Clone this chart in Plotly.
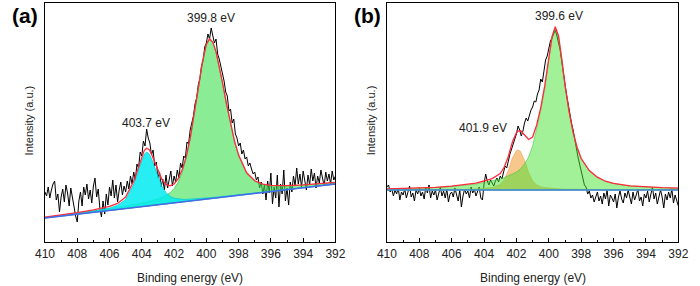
import plotly.graph_objects as go

# ---------------- Panel (a) data (height units, arbitrary) ----------------
counts_a = [
    50, 46, 55, 44, 52, 58, 61, 42, 48, 30,      # 410.0-409.1
    45, 53, 40, 57, 49, 36, 54, 44, 38, 26,      # 409.0-408.1
    20, 41, 50, 36, 55, 47, 58, 43, 52, 39,      # 408.0-407.1
    56, 64, 45, 53, 34, 25, 41, 28, 48, 37,      # 407.0-406.1
    55, 46, 62, 44, 57, 40, 52, 60, 47, 56,      # 406.0-405.1
    50, 61, 53, 66, 58, 70, 62, 78, 74, 90,      # 405.0-404.1
    86, 101, 96, 113, 104, 99, 87, 92, 76, 80,   # 404.0-403.1
    64, 70, 55, 63, 52, 67, 54, 62, 71, 56,      # 403.0-402.1
    66, 60, 72, 64, 79, 74, 86, 84, 100, 98,     # 402.0-401.1
    112, 119, 126, 138, 144, 157, 163, 176, 181, 195,  # 401.0-400.1
    199, 208, 203, 214, 206, 199, 203, 188, 183, 176,  # 400.0-399.1
    166, 161, 150, 146, 131, 133, 119, 123, 108, 104,  # 399.0-398.1
    96, 99, 88, 92, 83, 85, 76, 79, 73, 68,      # 398.0-397.1
    70, 62, 65, 54, 60, 48, 57, 42, 61, 49,      # 397.0-396.1
    69, 38, 55, 44, 67, 35, 58, 48, 72, 41,      # 396.0-395.1
    54, 37, 60, 50, 66, 56, 74, 58, 68, 55,      # 395.0-394.1
    71, 60, 52, 67, 57, 73, 61, 69, 54, 66,      # 394.0-393.1
    59, 72, 63, 56, 70, 61, 68, 58, 71, 62,      # 393.0-392.1
    66,                                          # 392.0
]
energy_a = [round(410 - 0.1 * i, 1) for i in range(len(counts_a))]

fit_x_a = [410, 409, 408, 407, 406, 405.5, 405, 404.5, 404.25, 404, 403.85, 403.7,
           403.55, 403.4, 403.2, 403, 402.75, 402.5, 402.25, 402, 401.75, 401.5,
           401.25, 401, 400.75, 400.5, 400.25, 400, 399.8, 399.6, 399.4, 399.2,
           399, 398.75, 398.5, 398.25, 398, 397.5, 397, 396.5, 396, 395, 394, 393, 392]
peak_403_a = [24.3, 26.3, 28.5, 30.9, 34.0, 36.7, 42.6, 57.9, 69.9, 82.2, 87.7, 89.9,
              88.3, 83.4, 74.5, 65.1, 55.6, 49.3, 45.6, 43.8, 43.0, 42.7,
              42.6, 42.8, 43.0, 43.2, 43.5, 43.9, 44.2, 44.5, 44.8, 45.2,
              45.5, 46.0, 46.3, 46.8, 47.3, 48.1, 49.1, 49.9, 50.8, 52.6, 54.5, 56.3, 58.2]
peak_399_a = [24.6, 26.6, 28.7, 30.9, 33.2, 34.4, 35.7, 37.2, 38.0, 38.7, 39.3, 39.8,
              40.4, 41.1, 42.0, 42.9, 44.5, 46.5, 49.2, 53.3, 59.7, 69.3,
              83.2, 102.3, 126.0, 152.5, 178.2, 196.9, 202.3, 199.1, 189.6, 175.6,
              159.0, 137.4, 117.2, 100.1, 86.3, 68.7, 60.7, 57.4, 56.2, 56.0, 56.8, 58.0, 59.5]
envelope_a = [24.9, 27.0, 29.4, 32.1, 35.6, 38.6, 44.9, 60.7, 73.0, 85.6, 91.4, 93.8,
              92.5, 88.0, 79.6, 70.8, 62.4, 57.6, 56.2, 58.0, 63.1, 71.9,
              85.3, 104.1, 127.5, 153.8, 179.3, 197.9, 203.2, 200.0, 190.4, 176.4,
              159.7, 138.1, 117.8, 100.7, 86.9, 69.2, 61.2, 57.8, 56.6, 56.3, 57.1, 58.2, 59.7]
baseline_x_a = [410, 392]
baseline_a = [24.0, 58.0]

# ---------------- Panel (b) data ----------------
counts_b = [
    55, 57, 50, 53, 46, 52, 48, 54, 42, 50,      # 410.0-409.1
    47, 53, 44, 51, 56, 45, 49, 41, 52, 48,      # 409.0-408.1
    54, 46, 50, 43, 55, 49, 57, 44, 51, 47,      # 408.0-407.1
    52, 42, 49, 55, 46, 51, 44, 53, 40, 48,      # 407.0-406.1
    50, 45, 54, 47, 41, 52, 35, 46, 53, 48,      # 406.0-405.1
    51, 44, 55, 49, 53, 46, 51, 55, 44, 42,      # 405.0-404.1
    58, 68, 61, 57, 62, 59, 56, 61, 64, 60,      # 404.0-403.1
    66, 63, 71, 76, 74, 82, 88, 93, 98, 104,     # 403.0-402.1
    108, 116, 112, 106, 111, 119, 124, 121, 128, 132,  # 402.0-401.1
    135, 141, 140, 148, 152, 163, 160, 170, 182, 186,  # 401.0-400.1
    193, 201, 204, 208, 212, 206, 199, 192, 180, 171,  # 400.0-399.1
    158, 147, 136, 128, 119, 112, 101, 94, 85, 77,     # 399.0-398.1
    70, 64, 57, 55, 48, 51, 44, 47, 40, 45,      # 398.0-397.1
    50, 41, 46, 38, 49, 43, 52, 36, 47, 44,      # 397.0-396.1
    40, 48, 34, 45, 51, 43, 39, 49, 44, 52,      # 396.0-395.1
    46, 38, 50, 42, 47, 53, 41, 45, 36, 48,      # 395.0-394.1
    44, 51, 40, 47, 55, 43, 49, 38, 46, 52,      # 394.0-393.1
    45, 34, 48, 42, 50, 44, 53, 39, 47, 41,      # 393.0-392.1
    36,                                          # 392.0
]
energy_b = [round(410 - 0.1 * i, 1) for i in range(len(counts_b))]

fit_x_b = [410, 409, 408, 407, 406, 405, 404.5, 404, 403.5, 403, 402.75, 402.5,
           402.25, 402, 401.9, 401.75, 401.5, 401.25, 401, 400.75, 400.5, 400.25,
           400, 399.8, 399.6, 399.4, 399.2, 399, 398.75, 398.5, 398.25, 398,
           397.5, 397, 396.5, 396, 395, 394, 393, 392]
peak_399_b = [53, 53.3, 53.8, 54.5, 55.5, 57, 58, 59.5, 61, 63, 64.5, 66,
              68, 70, 71, 73, 78, 85, 96, 112, 131, 154,
              182, 204, 214, 205, 182, 156, 130, 109, 94, 83,
              71, 64.5, 60.5, 58.5, 56, 55, 54.3, 53.8]
peak_401_b = [52.1, 52.1, 52.15, 52.2, 52.4, 52.7, 52.9, 53.5, 54.4, 57.5, 62.5, 71.5,
              84, 91.3, 92, 90.5, 81.5, 69.5, 61, 57, 55.2, 54.3,
              53.8, 53.5, 53.2, 53.0, 52.9, 52.8, 52.7, 52.6, 52.55, 52.5,
              52.4, 52.3, 52.25, 52.2, 52.15, 52.1, 52.1, 52.1]
envelope_b = [53.1, 53.4, 53.95, 54.7, 55.9, 57.7, 58.9, 61, 63.4, 68.5, 75, 85.5,
              100, 109.3, 111, 111.5, 107.5, 102.5, 105, 117, 134.2, 156.3,
              183.8, 205.5, 215.2, 206, 182.9, 156.8, 130.7, 109.6, 94.55, 83.5,
              71.4, 64.8, 60.75, 58.7, 56.15, 55.1, 54.4, 53.9]
baseline_x_b = [410, 392]
baseline_b = [52.0, 52.0]

tick_vals = [410, 408, 406, 404, 402, 400, 398, 396, 394, 392]
tick_text = ["410", "408", "406", "404", "402", "400", "398", "396", "394", "392"]

FONT = "Arial, Liberation Sans, sans-serif"
fig = go.Figure()


def add_fill(xs, ys, base_x, base_y, fillcolor, linecolor, xa, ya):
    px = list(xs) + list(base_x[::-1])
    py = list(ys) + list(base_y[::-1])
    fig.add_trace(go.Scatter(x=px, y=py, mode="lines", fill="toself",
                             fillcolor=fillcolor, line=dict(color=linecolor, width=0.8),
                             hoverinfo="skip", showlegend=False, xaxis=xa, yaxis=ya))


# Panel (a)
fig.add_trace(go.Scatter(x=energy_a, y=counts_a, mode="lines",
                         line=dict(color="black", width=1), showlegend=False,
                         xaxis="x", yaxis="y"))
add_fill(fit_x_a, peak_399_a, baseline_x_a, baseline_a,
         "rgba(60,225,80,0.6)", "rgba(40,190,60,0.8)", "x", "y")
add_fill(fit_x_a, peak_403_a, baseline_x_a, baseline_a,
         "rgba(0,235,240,0.85)", "rgba(0,200,210,0.9)", "x", "y")
fig.add_trace(go.Scatter(x=fit_x_a, y=envelope_a, mode="lines",
                         line=dict(color="#ff2a3a", width=1.3), showlegend=False,
                         xaxis="x", yaxis="y"))
fig.add_trace(go.Scatter(x=baseline_x_a, y=baseline_a, mode="lines",
                         line=dict(color="#4868e8", width=1.6), showlegend=False,
                         xaxis="x", yaxis="y"))

# Panel (b)
fig.add_trace(go.Scatter(x=energy_b, y=counts_b, mode="lines",
                         line=dict(color="black", width=1), showlegend=False,
                         xaxis="x2", yaxis="y2"))
add_fill(fit_x_b, peak_401_b, baseline_x_b, baseline_b,
         "rgba(245,185,110,0.8)", "rgba(235,170,100,0.9)", "x2", "y2")
add_fill(fit_x_b, peak_399_b, baseline_x_b, baseline_b,
         "rgba(70,225,50,0.5)", "rgba(60,200,60,0.7)", "x2", "y2")
fig.add_trace(go.Scatter(x=fit_x_b, y=envelope_b, mode="lines",
                         line=dict(color="#ff2a3a", width=1.3), showlegend=False,
                         xaxis="x2", yaxis="y2"))
fig.add_trace(go.Scatter(x=baseline_x_b, y=baseline_b, mode="lines",
                         line=dict(color="#3a86e0", width=1.6), showlegend=False,
                         xaxis="x2", yaxis="y2"))

xaxis_common = dict(range=[410, 392], tickmode="array", tickvals=tick_vals, ticktext=tick_text,
                    ticks="inside", ticklen=4, tickwidth=1, tickcolor="black",
                    minor=dict(ticks="inside", ticklen=2, tickwidth=1, tickcolor="black", dtick=1),
                    showline=True, linecolor="black", linewidth=1.3, mirror=True,
                    showgrid=False, zeroline=False,
                    tickfont=dict(family=FONT, size=12, color="#222"))
yaxis_common = dict(range=[0, 239], showticklabels=False, ticks="", showgrid=False,
                    zeroline=False, showline=True, linecolor="black", linewidth=1.3, mirror=True,
                    domain=[44 / 286, 283 / 286])

fig.update_layout(
    width=700, height=286, autosize=False,
    margin=dict(l=0, r=0, t=0, b=0),
    paper_bgcolor="white", plot_bgcolor="white",
    xaxis=dict(domain=[36 / 700, 335 / 700], anchor="y", **xaxis_common),
    yaxis=dict(anchor="x", **yaxis_common),
    xaxis2=dict(domain=[388 / 700, 688 / 700], anchor="y2", **xaxis_common),
    yaxis2=dict(anchor="x2", **yaxis_common),
    showlegend=False,
)

ann_font = dict(family=FONT, size=12, color="#222")
annotations = [
    dict(text="<b>(a)</b>", x=0, y=1 - 15 / 286, xref="paper", yref="paper",
         xanchor="left", yanchor="middle", showarrow=False,
         font=dict(family=FONT, size=21, color="black")),
    dict(text="<b>(b)</b>", x=352 / 700, y=1 - 15 / 286, xref="paper", yref="paper",
         xanchor="left", yanchor="middle", showarrow=False,
         font=dict(family=FONT, size=21, color="black")),
    dict(text="399.8 eV", x=399.7, y=224, xref="x", yref="y", showarrow=False, font=ann_font),
    dict(text="403.7 eV", x=403.74, y=119, xref="x", yref="y", showarrow=False, font=ann_font),
    dict(text="399.6 eV", x=399.38, y=226, xref="x2", yref="y2", showarrow=False, font=ann_font),
    dict(text="401.9 eV", x=404.06, y=114, xref="x2", yref="y2", showarrow=False, font=ann_font),
    dict(text="Binding energy (eV)", x=185.5 / 700, y=(286 - 278) / 286, xref="paper", yref="paper",
         showarrow=False, xanchor="center", yanchor="middle", font=ann_font),
    dict(text="Binding energy (eV)", x=538 / 700, y=(286 - 278) / 286, xref="paper", yref="paper",
         showarrow=False, xanchor="center", yanchor="middle", font=ann_font),
    dict(text="Intensity (a.u.)", x=20 / 700, y=1 - 120 / 286, xref="paper", yref="paper",
         showarrow=False, textangle=-90, xanchor="center", yanchor="middle",
         font=dict(family=FONT, size=11, color="#222")),
    dict(text="Intensity (a.u.)", x=372 / 700, y=1 - 120 / 286, xref="paper", yref="paper",
         showarrow=False, textangle=-90, xanchor="center", yanchor="middle",
         font=dict(family=FONT, size=11, color="#222")),
]
fig.update_layout(annotations=annotations)

fig.write_html("out.html", config={"displayModeBar": False},
               post_script="document.body.style.margin='0';document.body.style.padding='0';"
                           "document.documentElement.style.overflow='hidden';")
